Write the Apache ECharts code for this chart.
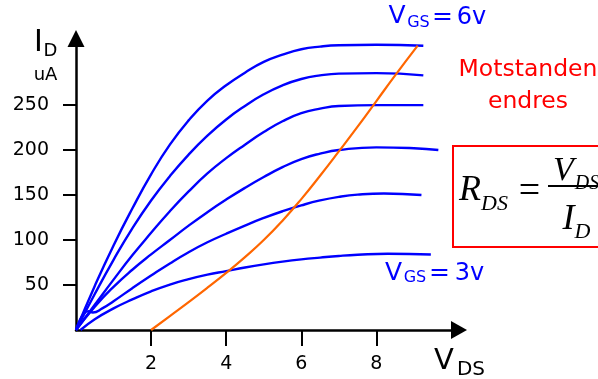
<!DOCTYPE html>
<html>
<head>
<meta charset="utf-8">
<script src="https://cdn.jsdelivr.net/npm/echarts@6/dist/echarts.min.js"></script>
<style>
html,body{margin:0;padding:0;background:#fff;}
#chart{width:598px;height:379px;}
</style>
</head>
<body>
<div id="chart"></div>
<script>
// ---- data ----
const xTicks = [2, 4, 6, 8];
const yTicks = [50, 100, 150, 200, 250];

// VGS = 6v (top curve)
const vds1 = [0, 0.5, 1, 1.5, 2, 2.5, 3, 3.5, 4, 4.5, 5, 5.5, 6, 6.5, 7, 8, 9.25];
const id1  = [0, 49, 94, 135, 173, 206, 233, 255, 272, 286, 298, 306, 312, 315, 316.5, 317, 316];
// second curve
const vds2 = [0, 0.5, 1, 1.5, 2, 2.5, 3, 3.5, 4, 4.5, 5, 5.5, 6, 6.5, 7, 8, 9.25];
const id2  = [0, 40, 78, 113, 144, 171, 195, 216, 234, 249, 262, 272, 279, 283, 285, 285.5, 283];
// third curve
const vds3 = [0, 0.5, 1, 1.5, 2, 2.5, 3, 3.5, 4, 4.5, 5, 5.5, 6, 6.5, 7, 8, 9.25];
const id3  = [0, 28, 56, 83, 108, 132, 154, 174, 191, 206, 220, 232, 241, 246, 249, 250, 250];
// fourth curve
const vds4 = [0, 0.5, 1, 1.5, 2, 2.5, 3, 3.5, 4, 4.5, 5, 5.5, 6, 6.5, 7, 8, 9, 9.65];
const id4  = [0, 26, 48, 67, 84, 100, 116, 131, 145, 158, 170, 181, 190, 196, 200, 203, 202, 200];
// fifth curve (with the small hook near the origin)
const vds5 = [0, 0.33, 0.45, 0.7, 1, 1.5, 2, 2.5, 3, 3.5, 4, 4.5, 5, 5.5, 6, 6.5, 7, 7.5, 8.2, 9.2];
const id5  = [0, 21, 19.5, 24, 32, 46.5, 60.5, 74, 86.5, 97.5, 107, 116, 124.5, 132, 138.5, 144, 148, 150.5, 151.8, 150];
// VGS = 3v (bottom curve)
const vds6 = [0.12, 0.5, 1, 1.5, 2, 2.5, 3, 3.5, 4, 4.5, 5, 5.5, 6, 6.5, 7, 7.5, 8.3, 9.45];
const id6  = [0, 12, 24, 34, 43, 50.5, 56.5, 61.5, 65.5, 69.5, 73, 76, 78.5, 80.5, 82.3, 83.6, 84.7, 84];
// orange load line
const vdsR = [2, 2.5, 3, 3.5, 4, 4.5, 5, 5.5, 6, 6.5, 7, 7.5, 8, 8.5, 9.1];
const idR  = [0, 15.5, 31, 47, 63.5, 81, 100, 121.5, 145.5, 171.5, 198.5, 226, 254.5, 283, 316];

const zip = (xs, ys) => xs.map((x, i) => [x, ys[i]]);
const BLUE = '#0000ff';
const ORANGE = '#ff6600';
const RED = '#ff0000';
const SANS = '"DejaVu Sans", sans-serif';
const SERIF = '"Liberation Serif", "Times New Roman", serif';

function blue(name, xs, ys) {
  return {
    name: name, type: 'line', data: zip(xs, ys), smooth: 0.5,
    showSymbol: false, symbol: 'none', clip: false,
    lineStyle: { color: BLUE, width: 2.4 }
  };
}

function txt(text, x, y, size, color, opts) {
  opts = opts || {};
  return {
    type: 'text', x: x, y: y, z: 100,
    style: {
      text: text, fill: color,
      fontSize: size, fontFamily: opts.family || SANS,
      fontStyle: opts.style || 'normal',
      align: opts.align || 'center', verticalAlign: 'middle'
    }
  };
}

const chart = echarts.init(document.getElementById('chart'), null, { renderer: 'canvas' });
chart.setOption({
  animation: false,
  backgroundColor: '#ffffff',
  grid: { left: 76, top: 38.5, right: 139, bottom: 49, containLabel: false },
  xAxis: {
    type: 'value', min: 0, max: 10.2, interval: 2,
    axisLine: { show: true, lineStyle: { color: '#000', width: 2.5 },
      symbol: ['none', 'triangle'], symbolSize: [18, 16] },
    axisTick: { show: true, length: 16, customValues: xTicks,
      lineStyle: { color: '#000', width: 2 } },
    axisLabel: { show: true, customValues: xTicks, margin: 25, color: '#000',
      fontSize: 19, fontFamily: SANS },
    splitLine: { show: false }
  },
  yAxis: {
    type: 'value', min: 0, max: 324, interval: 50,
    axisLine: { show: true, lineStyle: { color: '#000', width: 2.5 },
      symbol: ['none', 'triangle'], symbolSize: [17, 17] },
    axisTick: { show: true, length: 13, customValues: yTicks,
      lineStyle: { color: '#000', width: 2 } },
    axisLabel: { show: true, customValues: yTicks, margin: 27, color: '#000',
      fontSize: 19, fontFamily: SANS },
    splitLine: { show: false }
  },
  series: [
    blue('VGS6', vds1, id1),
    blue('c2', vds2, id2),
    blue('c3', vds3, id3),
    blue('c4', vds4, id4),
    blue('c5', vds5, id5),
    blue('VGS3', vds6, id6),
    {
      name: 'R', type: 'line', data: zip(vdsR, idR), smooth: 0.5,
      showSymbol: false, symbol: 'none', clip: false, z: 3,
      lineStyle: { color: ORANGE, width: 2.2 }
    }
  ],
  graphic: [
    // axis titles
    txt('I', 38.5, 43, 30, '#000'),
    txt('D', 50.5, 51.5, 18, '#000'),
    txt('uA', 45.5, 75, 18, '#000'),
    txt('V', 444, 361.5, 29, '#000'),
    txt('DS', 471, 369.5, 20, '#000'),
    // VGS labels
    txt('V', 397, 16.7, 25, BLUE),
    txt('GS', 418.5, 22.8, 16, BLUE),
    txt('=', 442.5, 17, 25, BLUE),
    txt('6v', 471.5, 17.5, 24, BLUE),
    txt('V', 393.5, 273, 25, BLUE),
    txt('GS', 415, 278.3, 16, BLUE),
    txt('=', 439.5, 273, 25, BLUE),
    txt('3v', 469.5, 274, 24, BLUE),
    // red note
    txt('Motstanden', 528, 70, 23.5, RED),
    txt('endres', 528, 102, 23.5, RED),
    // formula box
    {
      type: 'rect', z: 90,
      shape: { x: 453, y: 146, width: 170, height: 101 },
      style: { fill: '#fff', stroke: RED, lineWidth: 2 }
    },
    txt('R', 470, 190.5, 36, '#000', { family: SERIF, style: 'italic' }),
    txt('DS', 494.5, 204, 22, '#000', { family: SERIF, style: 'italic' }),
    txt('=', 529.5, 192, 38, '#000', { family: SERIF }),
    {
      type: 'line', z: 100,
      shape: { x1: 548, y1: 186, x2: 598, y2: 186 },
      style: { stroke: '#000', lineWidth: 2 }
    },
    txt('V', 563.5, 171.5, 34, '#000', { family: SERIF, style: 'italic' }),
    txt('DS', 587, 183.5, 20, '#000', { family: SERIF, style: 'italic' }),
    txt('I', 568.5, 219.5, 36, '#000', { family: SERIF, style: 'italic' }),
    txt('D', 582.5, 232.5, 22, '#000', { family: SERIF, style: 'italic' })
  ]
});
</script>
</body>
</html>
